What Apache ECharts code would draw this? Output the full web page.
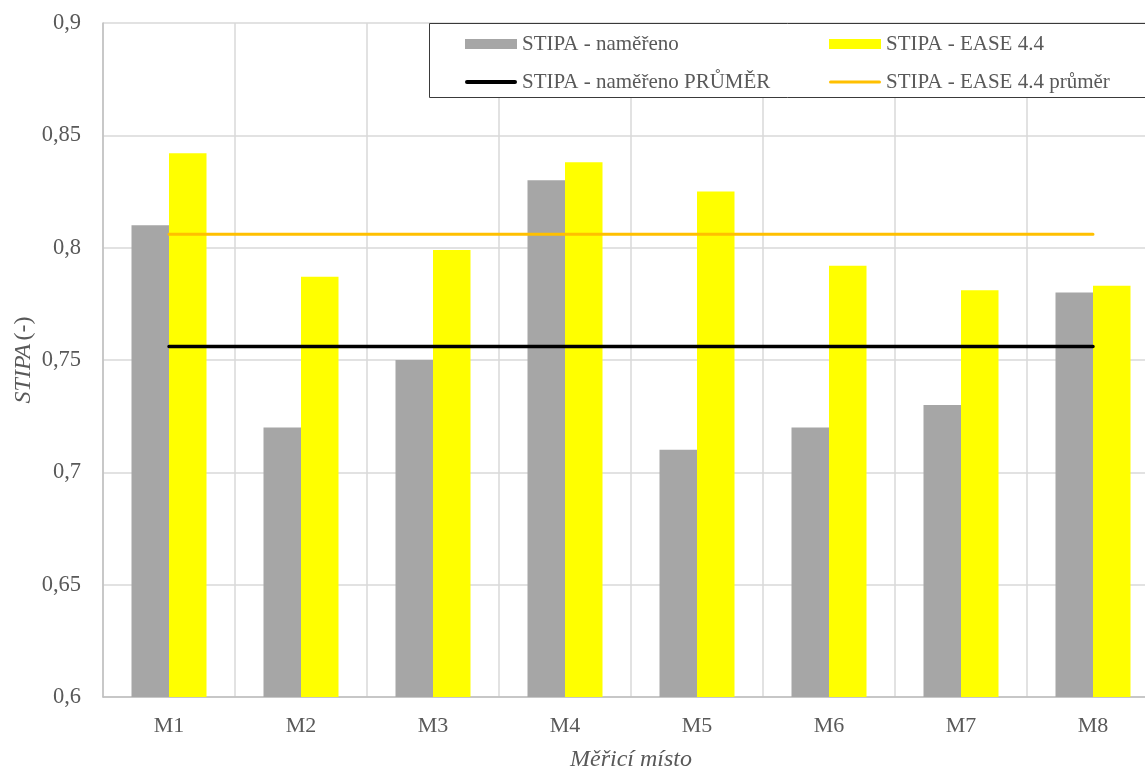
<!DOCTYPE html>
<html>
<head>
<meta charset="utf-8">
<script src="https://cdn.jsdelivr.net/npm/echarts@6/dist/echarts.min.js"></script>
<style>
  html, body { margin: 0; padding: 0; background: #fff; }
  #chart { width: 1145px; height: 772px; }
</style>
</head>
<body>
<div id="chart"></div>
<script>
// Measuring points
const categories = ['M1', 'M2', 'M3', 'M4', 'M5', 'M6', 'M7', 'M8'];
// STIPA measured on site
const measured = [0.81, 0.72, 0.75, 0.83, 0.71, 0.72, 0.73, 0.78];
// STIPA simulated in EASE 4.4
const simulated = [0.842, 0.787, 0.799, 0.838, 0.825, 0.792, 0.781, 0.783];
// Average levels
const measuredAvg = [0.756, 0.756, 0.756, 0.756, 0.756, 0.756, 0.756, 0.756];
const simulatedAvg = [0.806, 0.806, 0.806, 0.806, 0.806, 0.806, 0.806, 0.806];
// Value axis ticks
const yTicks = { min: 0.6, max: 0.9, step: 0.05 };

const names = {
  measured: 'STIPA - naměřeno',
  simulated: 'STIPA - EASE 4.4',
  measuredAvg: 'STIPA - naměřeno PRŮMĚR',
  simulatedAvg: 'STIPA - EASE 4.4 průměr'
};

const FONT = '"Liberation Serif", "Times New Roman", serif';
const TXT = '#595959';

// legend swatches: solid block for bars, thin strokes for the average lines
const ICON_BAR = 'path://M0,0 L52,0 L52,10 L0,10 Z';
const ICON_THICK = 'path://M2,0 L50,0 A2,2 0 0 1 50,4 L2,4 A2,2 0 0 1 2,0 Z';
const ICON_THIN = 'path://M1.5,0 L50.5,0 A1.5,1.5 0 0 1 50.5,3 L1.5,3 A1.5,1.5 0 0 1 1.5,0 Z';

const chart = echarts.init(document.getElementById('chart'), null, { renderer: 'canvas' });

const legendText = { fontFamily: FONT, fontSize: 21, color: TXT, lineHeight: 24 };

chart.setOption({
  animation: false,
  backgroundColor: '#ffffff',
  grid: { left: 103, top: 23, right: -14, bottom: 75, containLabel: false, outerBoundsMode: 'none' },
  graphic: [{
    type: 'rect',
    z: 5,
    shape: { x: 429.5, y: 23.5, width: 740, height: 74 },
    style: { fill: '#ffffff', stroke: '#3a3a3a', lineWidth: 1 }
  }],
  legend: [{
    z: 6,
    orient: 'vertical',
    left: 460, top: 27,
    itemWidth: 52, itemHeight: 10, itemGap: 14,
    symbolKeepAspect: true,
    textStyle: legendText,
    data: [
      { name: names.measured, icon: ICON_BAR },
      { name: names.measuredAvg, icon: ICON_THICK }
    ]
  }, {
    z: 6,
    orient: 'vertical',
    left: 824, top: 27,
    itemWidth: 52, itemHeight: 10, itemGap: 14,
    symbolKeepAspect: true,
    textStyle: legendText,
    data: [
      { name: names.simulated, icon: ICON_BAR },
      { name: names.simulatedAvg, icon: ICON_THIN }
    ]
  }],
  xAxis: {
    type: 'category',
    data: categories,
    boundaryGap: true,
    axisLine: { show: true, lineStyle: { color: '#BFBFBF', width: 1.5 } },
    axisTick: { show: false },
    splitLine: { show: true, lineStyle: { color: '#D9D9D9', width: 1.5 } },
    axisLabel: { fontFamily: FONT, fontSize: 22, color: TXT, margin: 18 },
    name: 'Měřicí místo',
    nameLocation: 'middle',
    nameGap: 51,
    nameTextStyle: { fontFamily: FONT, fontSize: 24, fontStyle: 'italic', color: TXT }
  },
  yAxis: {
    type: 'value',
    min: yTicks.min,
    max: yTicks.max,
    interval: yTicks.step,
    axisLine: { show: true, lineStyle: { color: '#BFBFBF', width: 1.5 } },
    axisTick: { show: false },
    splitLine: { show: true, lineStyle: { color: '#D9D9D9', width: 1.5 } },
    axisLabel: {
      fontFamily: FONT, fontSize: 22.5, color: TXT, margin: 22,
      formatter: v => String(Math.round(v * 100) / 100).replace('.', ',')
    },
    name: '{i|STIPA} {n|(-)}',
    nameLocation: 'middle',
    nameGap: 67,
    nameMoveOverlap: false,
    nameRotate: 90,
    nameTextStyle: {
      color: TXT,
      rich: {
        i: { fontFamily: FONT, fontSize: 24, fontStyle: 'italic', color: TXT },
        n: { fontFamily: FONT, fontSize: 24, color: TXT }
      }
    }
  },
  series: [{
    name: names.measured,
    type: 'bar',
    data: measured,
    barWidth: 37.5,
    barGap: '0%',
    itemStyle: { color: '#A6A6A6' }
  }, {
    name: names.simulated,
    type: 'bar',
    data: simulated,
    barWidth: 37.5,
    barGap: '0%',
    itemStyle: { color: '#FFFF00' }
  }, {
    name: names.measuredAvg,
    type: 'line',
    data: measuredAvg,
    symbol: 'none',
    z: 3,
    lineStyle: { color: '#000000', width: 3.5, cap: 'round' },
    itemStyle: { color: '#000000' }
  }, {
    name: names.simulatedAvg,
    type: 'line',
    data: simulatedAvg,
    symbol: 'none',
    z: 3,
    lineStyle: { color: '#FFC000', width: 3, cap: 'round' },
    itemStyle: { color: '#FFC000' }
  }]
});
</script>
</body>
</html>
